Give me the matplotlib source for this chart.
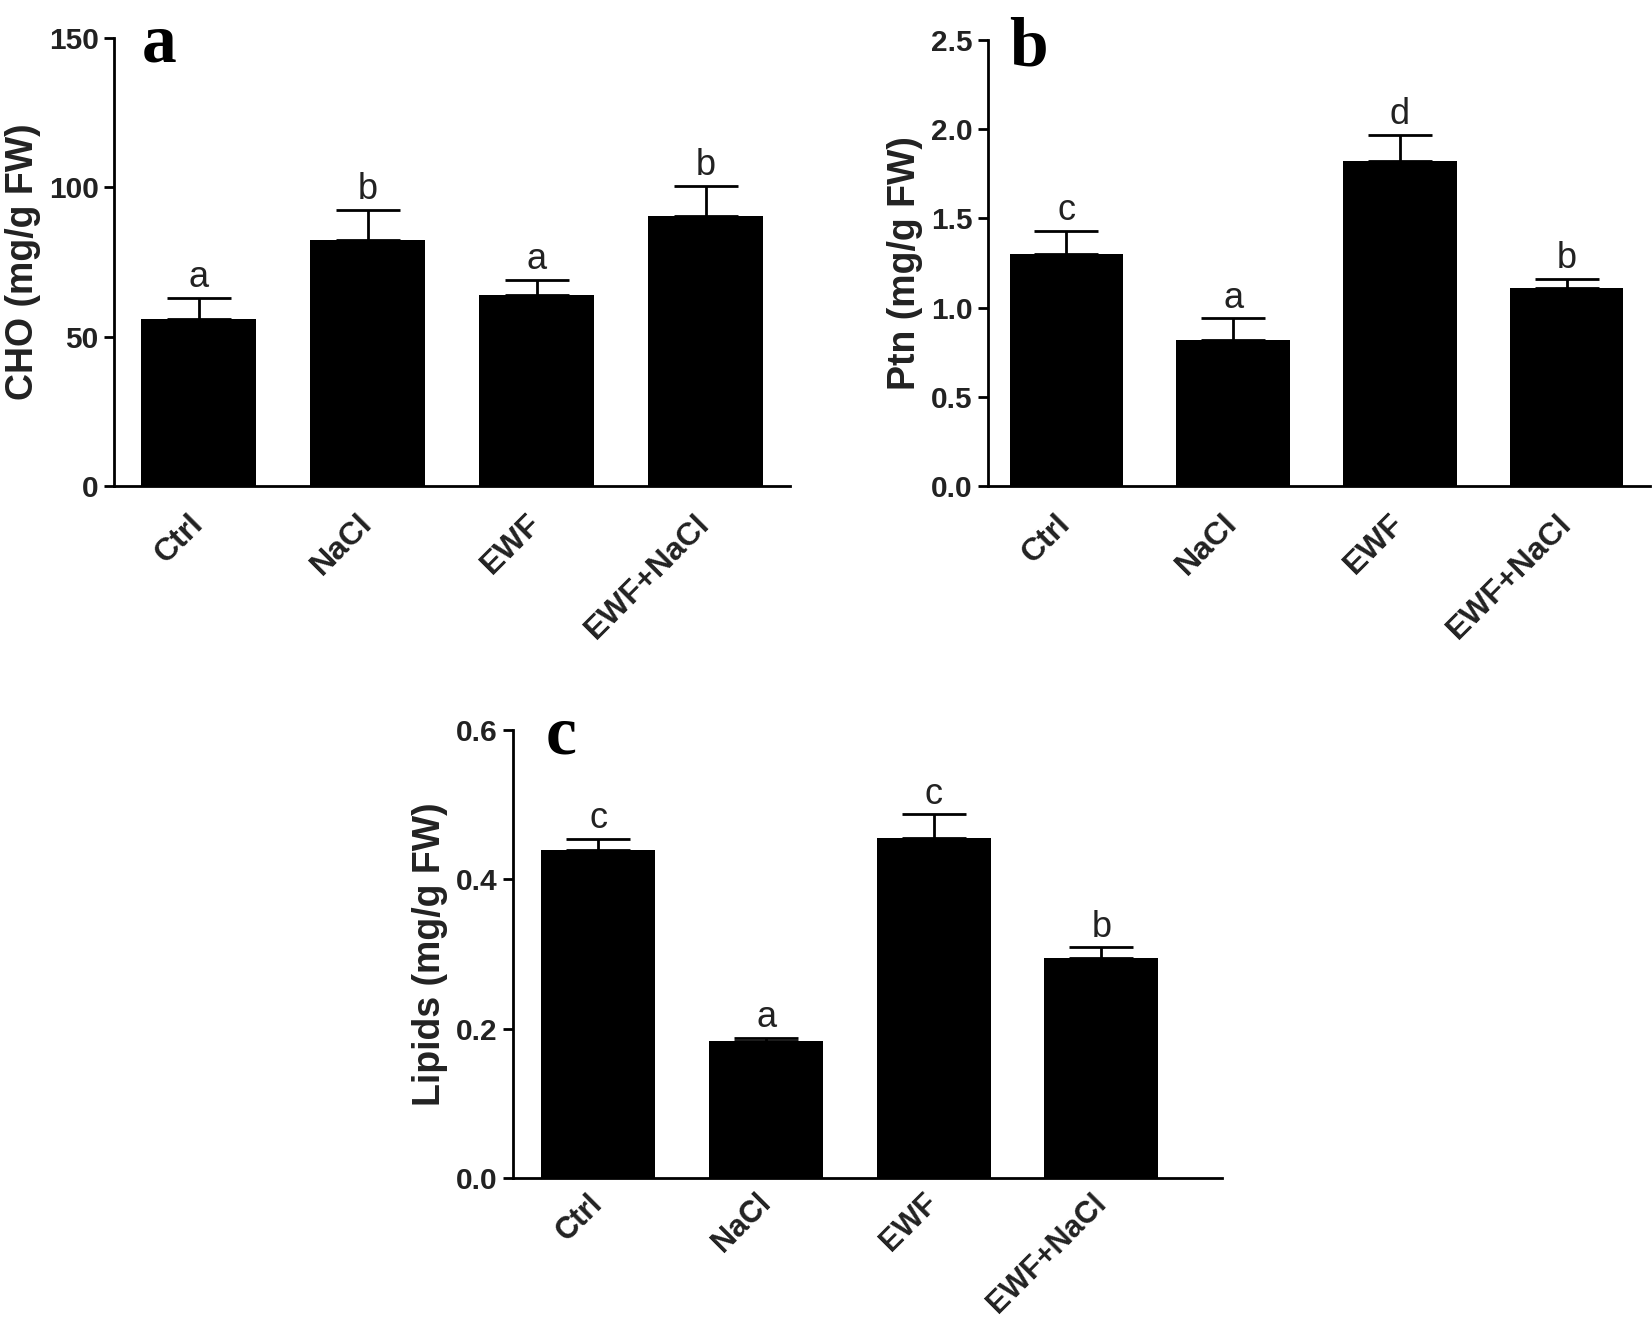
import matplotlib
matplotlib.use('Agg')
import matplotlib.pyplot as plt
import numpy as np

plt.rcParams['font.family'] = ['Liberation Sans', 'DejaVu Sans']

groups = ['Ctrl', 'NaCl', 'EWF', 'EWF+NaCl']

cho_mean = [56, 82.5, 64, 90.5]
cho_err = [7, 10, 5, 10]
cho_letters = ['a', 'b', 'a', 'b']

ptn_mean = [1.30, 0.82, 1.82, 1.11]
ptn_err = [0.13, 0.12, 0.15, 0.05]
ptn_letters = ['c', 'a', 'd', 'b']

lip_mean = [0.439, 0.184, 0.455, 0.294]
lip_err = [0.015, 0.004, 0.032, 0.015]
lip_letters = ['c', 'a', 'c', 'b']

W, H = 1652, 1331
fig = plt.figure(figsize=(W / 100, H / 100), dpi=100)


def px_axes(left, top, right, bottom):
    # axes box given in pixel coordinates of the figure
    return fig.add_axes([left / W, 1 - bottom / H, (right - left) / W, (bottom - top) / H])


def panel(ax, means, errs, letters, ylabel, yticks, fmt, xlim, xpad=24, xsize=23):
    x = np.arange(len(groups))
    ax.errorbar(x, means, yerr=[np.zeros(len(errs)), errs], fmt='none',
                ecolor='black', elinewidth=2.0, capsize=23, capthick=2.0, zorder=1)
    ax.bar(x, means, width=0.68, color='black', edgecolor='none', zorder=2)
    for xi, m, e, lab in zip(x, means, errs, letters):
        ax.annotate(lab, (xi, m + e), xytext=(0, 2), textcoords='offset points',
                    ha='center', va='bottom', fontsize=26, color='#222222')
    ax.set_xlim(*xlim)
    ax.set_ylim(yticks[0], yticks[-1])
    ax.set_yticks(yticks)
    ax.set_yticklabels([fmt.format(t) for t in yticks], fontsize=21.5, fontweight='bold',
                       color='#222222')
    ax.set_xticks(x)
    ax.set_xticklabels(groups, rotation=45, ha='right', va='center',
                       rotation_mode='anchor', fontsize=xsize, fontweight='bold',
                       color='#222222')
    ax.tick_params(axis='x', length=0, pad=xpad)
    ax.tick_params(axis='y', length=7, width=2, pad=4)
    for s in ['top', 'right']:
        ax.spines[s].set_visible(False)
    for s in ['left', 'bottom']:
        ax.spines[s].set_linewidth(2)
    ax.set_ylabel(ylabel, fontsize=27, fontweight='bold', color='#222222', labelpad=6)


ax1 = px_axes(114, 38, 790, 486)
panel(ax1, cho_mean, cho_err, cho_letters, 'CHO (mg/g FW)', [0, 50, 100, 150],
      '{:.0f}', (-0.5, 3.5))

ax2 = px_axes(988, 40, 1650, 486)
panel(ax2, ptn_mean, ptn_err, ptn_letters, 'Ptn (mg/g FW)',
      [0, 0.5, 1.0, 1.5, 2.0, 2.5], '{:.1f}', (-0.47, 3.5))

ax3 = px_axes(513, 730, 1222, 1178)
panel(ax3, lip_mean, lip_err, lip_letters, 'Lipids (mg/g FW)',
      [0, 0.2, 0.4, 0.6], '{:.1f}', (-0.51, 3.72), xpad=15, xsize=22)

tag_font = dict(family='Liberation Serif', fontsize=50, fontweight='bold', va='baseline')
fig.text(142 / W, 1 - 61 / H, 'a', **tag_font)
fig.text(1009 / W, 1 - 66 / H, 'b', **tag_font)
fig.text(546 / W, 1 - 753 / H, 'c', **tag_font)

fig.savefig('out.png', dpi=100)
